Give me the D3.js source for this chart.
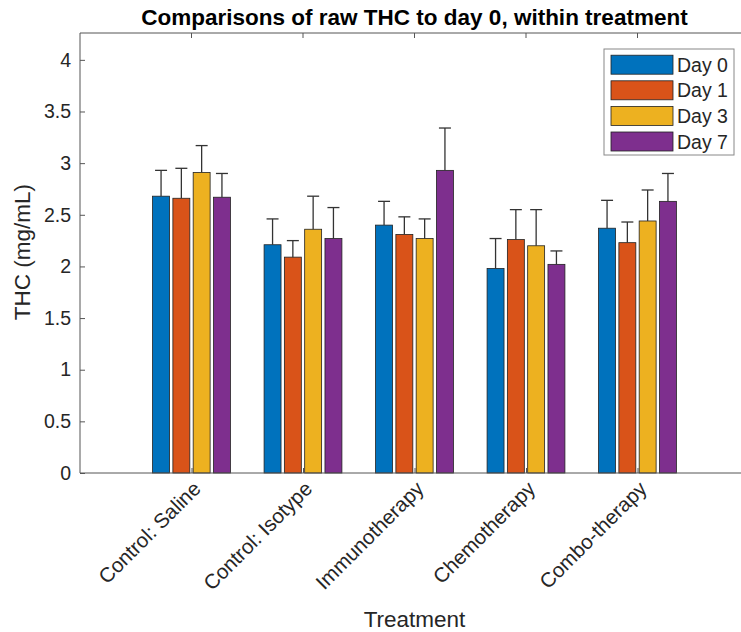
<!DOCTYPE html>
<html>
<head>
<meta charset="utf-8">
<script src="https://cdn.jsdelivr.net/npm/d3@7"></script>
<style>
  body { margin: 0; background: #fff; }
  svg { display: block; }
  text { font-family: "Liberation Sans", Arial, Helvetica, sans-serif; }
</style>
</head>
<body>
<svg id="chart" width="741" height="632"></svg>
<script>
const categories = ["Control: Saline", "Control: Isotype", "Immunotherapy", "Chemotherapy", "Combo-therapy"];
const seriesNames = ["Day 0", "Day 1", "Day 3", "Day 7"];
const seriesColors = ["#0072BD", "#D95319", "#EDB120", "#7E2F8E"];
const day0 = [2.68, 2.21, 2.40, 1.98, 2.37];
const day1 = [2.66, 2.09, 2.31, 2.26, 2.23];
const day3 = [2.91, 2.36, 2.27, 2.20, 2.44];
const day7 = [2.67, 2.27, 2.93, 2.02, 2.63];
const day0Err = [0.25, 0.25, 0.23, 0.29, 0.27];
const day1Err = [0.29, 0.16, 0.17, 0.29, 0.20];
const day3Err = [0.26, 0.32, 0.19, 0.35, 0.30];
const day7Err = [0.23, 0.30, 0.41, 0.13, 0.27];
const yTicks = [0, 0.5, 1, 1.5, 2, 2.5, 3, 3.5, 4];
const yTickLabels = ["0", "0.5", "1", "1.5", "2", "2.5", "3", "3.5", "4"];
const titleText = "Comparisons of raw THC to day 0, within treatment";
const xLabel = "Treatment";
const yLabel = "THC (mg/mL)";

const values = [day0, day1, day3, day7];
const errors = [day0Err, day1Err, day3Err, day7Err];

const svg = d3.select("#chart");
const pLeft = 80, pRight = 749, pTop = 33, pBottom = 473;

const x = d3.scaleLinear().domain([0, categories.length + 1]).range([pLeft, pRight]);
const y = d3.scaleLinear().domain([0, 4.26]).range([pBottom, pTop]);

const slot = 0.182;
const barW = x(0.152) - x(0);
const axisColor = "#555";
const textColor = "#262626";

// axes box lines
svg.append("line").attr("x1", pLeft).attr("x2", pRight).attr("y1", pTop).attr("y2", pTop)
  .attr("stroke", axisColor).attr("stroke-width", 1);
svg.append("line").attr("x1", pRight).attr("x2", pRight).attr("y1", pTop).attr("y2", pBottom)
  .attr("stroke", axisColor).attr("stroke-width", 1);

// bars
const rows = [];
values.forEach((s, si) => s.forEach((v, ci) => rows.push({si, ci, v, e: errors[si][ci]})));
const cx = d => x(d.ci + 1 + (d.si - 1.5) * slot);

svg.append("g").selectAll("rect").data(rows).join("rect")
  .attr("x", d => cx(d) - barW / 2)
  .attr("width", barW)
  .attr("y", d => y(d.v))
  .attr("height", d => y(0) - y(d.v))
  .attr("fill", d => seriesColors[d.si])
  .attr("stroke", "#222")
  .attr("stroke-width", 0.8);

// error bars (upper only)
const eg = svg.append("g").attr("stroke", "#333").attr("stroke-width", 1.3);
eg.selectAll("line.v").data(rows).join("line").attr("class", "v")
  .attr("x1", cx).attr("x2", cx)
  .attr("y1", d => y(d.v)).attr("y2", d => y(d.v + d.e));
eg.selectAll("line.c").data(rows).join("line").attr("class", "c")
  .attr("x1", d => cx(d) - 6).attr("x2", d => cx(d) + 6)
  .attr("y1", d => y(d.v + d.e)).attr("y2", d => y(d.v + d.e));

// y axis
const yAxis = d3.axisLeft(y).tickValues(yTicks).tickSize(-5).tickPadding(9)
  .tickFormat((d, i) => yTickLabels[i]);
const gy = svg.append("g").attr("transform", `translate(${pLeft},0)`).call(yAxis);
gy.select(".domain").attr("stroke", axisColor).attr("d", `M0,${pTop}V${pBottom}`);
gy.selectAll(".tick line").attr("stroke", axisColor);
gy.selectAll(".tick text").attr("font-size", 19.5).attr("fill", textColor)
  .attr("font-family", "Liberation Sans, Arial, sans-serif");

// x axis
const xAxis = d3.axisBottom(x).tickValues(categories.map((c, i) => i + 1)).tickSize(-5)
  .tickFormat((d) => categories[d - 1]).tickPadding(0);
const gx = svg.append("g").attr("transform", `translate(0,${pBottom})`).call(xAxis);
gx.select(".domain").attr("stroke", axisColor).attr("d", `M${pLeft},0H${pRight}`);
gx.selectAll(".tick line").attr("stroke", axisColor);
gx.selectAll(".tick text")
  .attr("font-size", 20.5).attr("fill", textColor)
  .attr("font-family", "Liberation Sans, Arial, sans-serif")
  .attr("text-anchor", "end")
  .attr("dy", null)
  .attr("transform", "translate(10,17) rotate(-45)");

// top ticks
svg.append("g").selectAll("line").data(categories).join("line")
  .attr("x1", (d, i) => x(i + 1)).attr("x2", (d, i) => x(i + 1))
  .attr("y1", pTop).attr("y2", pTop + 5).attr("stroke", axisColor);

// title
svg.append("text").attr("x", (pLeft + pRight) / 2).attr("y", 25)
  .attr("text-anchor", "middle").attr("font-size", 22.5).attr("font-weight", "bold")
  .attr("fill", "#000").text(titleText);

// axis labels
svg.append("text").attr("x", (pLeft + pRight) / 2).attr("y", 627)
  .attr("text-anchor", "middle").attr("font-size", 22.5).attr("fill", textColor).text(xLabel);
svg.append("text").attr("transform", `translate(30,252) rotate(-90)`)
  .attr("text-anchor", "middle").attr("font-size", 22.5).attr("fill", textColor).text(yLabel);

// legend
const lg = svg.append("g");
lg.append("rect").attr("x", 604).attr("y", 49).attr("width", 130).attr("height", 106)
  .attr("fill", "#fff").attr("stroke", "#888").attr("stroke-width", 1);
seriesNames.forEach((name, i) => {
  const cy = 64.7 + i * 25.6;
  lg.append("rect").attr("x", 611).attr("y", cy - 9.5).attr("width", 62).attr("height", 19)
    .attr("fill", seriesColors[i]).attr("stroke", "#222").attr("stroke-width", 0.8);
  lg.append("text").attr("x", 677).attr("y", cy + 7).attr("font-size", 19.5)
    .attr("fill", textColor).text(name);
});
</script>
</body>
</html>
